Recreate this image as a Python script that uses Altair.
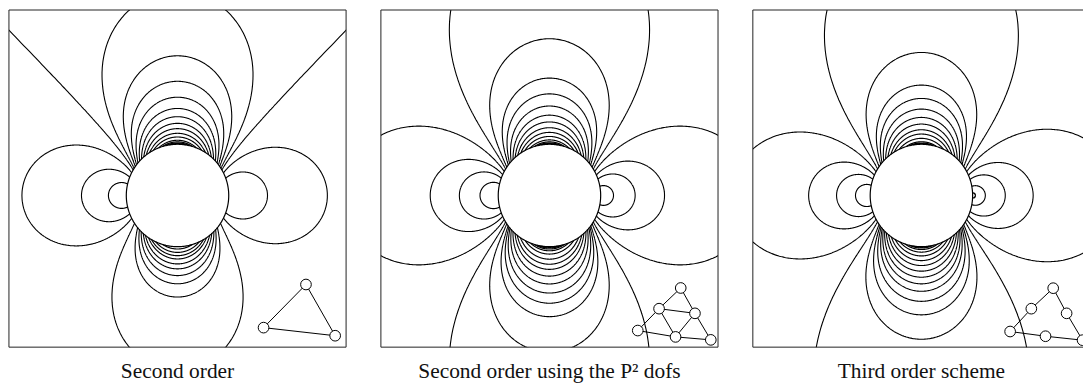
import numpy as np
import pandas as pd
import altair as alt

alt.data_transformers.disable_max_rows()

# ---- window of each panel, in cylinder radii (cylinder of radius 1 at the origin) ----
X_MIN, X_MAX = -3.2913, 3.2913
X_MAX_P3 = 3.155          # the third panel runs past the right edge of the page
Y_MIN, Y_MAX = -2.961, 3.621

# ---- contour levels of the pressure coefficient, by panel and by region ----
P1_TOP = [-0.0003, -0.13, -0.287, -0.443, -0.617, -0.813, -1.024, -1.263, -1.519,
          -1.818, -2.122, -2.462, -2.66, -2.8, -2.9]
P1_BOTTOM = [-0.18, -0.573, -0.786, -0.985, -1.211, -1.434, -1.726, -1.972, -2.276, -2.671]
P1_LEFT = [0.205, 0.488, 0.797]
P1_RIGHT = [0.220, 0.543]

P2_TOP = [-0.07, -0.225, -0.417, -0.573, -0.763, -0.979, -1.205, -1.469, -1.752,
          -2.073, -2.42, -2.66, -2.8, -2.9]
P2_BOTTOM = [-0.07, -0.225, -0.389, -0.503, -0.627, -0.783, -0.97, -1.193, -1.417,
             -1.711, -2.109, -2.45, -2.66, -2.8, -2.9]
P2_LEFT = [0.12, 0.335, 0.542, 0.792]
P2_RIGHT = [0.12, 0.357, 0.587, 0.870]

P3_TOP = [-0.075, -0.273, -0.477, -0.635, -0.827, -1.047, -1.294, -1.584, -1.875,
          -2.256, -2.644, -2.8, -2.9]
P3_BOTTOM = [-0.06, -0.27, -0.402, -0.523, -0.653, -0.785, -0.94, -1.126, -1.354,
             -1.621, -1.95, -2.3, -2.6, -2.8, -2.9]
P3_LEFT = [0.14, 0.370, 0.596, 0.843]
P3_RIGHT = [0.13, 0.376, 0.607, 0.872, 0.99]

# ---- reference-element sketches (node positions and edges) ----
P1_NODE_X = [2.508, 1.680, 3.078]
P1_NODE_Y = [-1.738, -2.580, -2.738]
P1_EDGES = [(0, 1), (1, 2), (2, 0)]

P2_NODE_X = [2.563, 2.140, 2.841, 1.724, 2.462, 3.150]
P2_NODE_Y = [-1.806, -2.210, -2.301, -2.637, -2.761, -2.819]
P2_EDGES = [(0, 1), (1, 3), (3, 4), (4, 5), (5, 2), (2, 0), (1, 2), (1, 4), (2, 4)]

P3_NODE_X = [2.573, 2.146, 2.835, 1.732, 2.423, 3.146]
P3_NODE_Y = [-1.810, -2.210, -2.301, -2.656, -2.748, -2.825]
P3_EDGES = [(0, 1), (1, 3), (3, 4), (4, 5), (5, 2), (2, 0)]

CAPTIONS = ["Second order", "Second order using the P\u00b2 dofs", "Third order scheme"]


def level_curve(c, n=240):
    """Iso-line Cp = c of potential flow round the unit cylinder,
    Cp = 2 cos(2t)/r^2 - 1/r^4, parametrised by u = 1/r^2.
    Returns the along-stream / cross-stream distances of one half."""
    u_lo = 1 - np.sqrt(1 - c) if c > 0 else np.sqrt(1 - c) - 1
    s = np.linspace(0.0, 1.0, n)
    u = u_lo + (1 - u_lo) * s ** 2
    v = np.clip((u ** 2 + c) / (2 * u), -1, 1)
    phi = 0.5 * np.arccos(v)
    r = 1 / np.sqrt(u)
    return r * np.cos(phi), r * np.sin(phi)


def region_curve(c, region):
    a, b = level_curve(c)
    if region in ("left", "right"):
        x = np.concatenate([a[::-1], a[1:]])
        y = np.concatenate([b[::-1], -b[1:]])
        if region == "left":
            x = -x
    else:
        x = np.concatenate([-a[::-1], a[1:]])
        y = np.concatenate([b[::-1], b[1:]])
        if region == "bottom":
            y = -y
    return x, y


def visible_runs(x, y, xmax, margin=0.35):
    ok = (x > X_MIN - margin) & (x < xmax + margin) & (y > Y_MIN - margin) & (y < Y_MAX + margin)
    idx = np.flatnonzero(ok)
    if idx.size == 0:
        return []
    breaks = np.flatnonzero(np.diff(idx) > 1)
    starts = np.r_[idx[0], idx[breaks + 1]]
    ends = np.r_[idx[breaks], idx[-1]]
    runs = []
    for a0, e0 in zip(starts, ends):
        a0 = max(a0 - 1, 0)
        e0 = min(e0 + 1, len(x) - 1)
        runs.append((x[a0:e0 + 1], y[a0:e0 + 1]))
    return runs


def contour_table(levels_by_region, xmax):
    frames = []
    line_id = 0
    for region, levels in levels_by_region.items():
        for c in levels:
            x, y = region_curve(c, region)
            for rx, ry in visible_runs(x, y, xmax):
                frames.append(pd.DataFrame({"id": line_id, "k": np.arange(len(rx)),
                                            "x": np.round(rx, 3), "y": np.round(ry, 3)}))
                line_id += 1
    return pd.concat(frames, ignore_index=True)


def panel(levels_by_region, node_x, node_y, edges, xmax, caption, right_edge=True, dx=0):
    xs = alt.Scale(domain=[X_MIN, xmax], nice=False, zero=False)
    ys = alt.Scale(domain=[Y_MIN, Y_MAX], nice=False, zero=False)
    X = alt.X("x:Q", scale=xs, axis=None)
    Y = alt.Y("y:Q", scale=ys, axis=None)

    contours = alt.Chart(contour_table(levels_by_region, xmax)).mark_line(
        clip=True, color="black", strokeWidth=1.1
    ).encode(x=X, y=Y, detail="id:N", order="k:Q")

    t = np.linspace(0, 2 * np.pi, 361)
    cyl = pd.DataFrame({"k": np.arange(t.size), "x": np.round(np.cos(t), 4), "y": np.round(np.sin(t), 4)})
    cylinder = alt.Chart(cyl).mark_line(color="black", strokeWidth=1.2).encode(x=X, y=Y, order="k:Q")

    fr = [(X_MIN, Y_MIN, X_MIN, Y_MAX), (X_MIN, Y_MIN, xmax, Y_MIN), (X_MIN, Y_MAX, xmax, Y_MAX)]
    if right_edge:
        fr.append((xmax, Y_MIN, xmax, Y_MAX))
    frame = alt.Chart(pd.DataFrame(fr, columns=["x", "y", "x2", "y2"])).mark_rule(
        color="#222", strokeWidth=1
    ).encode(x=X, y=Y, x2="x2:Q", y2="y2:Q")

    ed = pd.DataFrame([(node_x[i], node_y[i], node_x[j], node_y[j]) for i, j in edges],
                      columns=["x", "y", "x2", "y2"])
    edge_lines = alt.Chart(ed).mark_rule(clip=True, color="black", strokeWidth=1).encode(
        x=X, y=Y, x2="x2:Q", y2="y2:Q")

    nodes = alt.Chart(pd.DataFrame({"x": node_x, "y": node_y})).mark_point(
        clip=True, shape="circle", filled=True, fill="white", stroke="black",
        strokeWidth=1, size=115, opacity=1
    ).encode(x=X, y=Y)

    width = round((xmax - X_MIN) * 51.5)
    return alt.layer(contours, cylinder, frame, edge_lines, nodes).properties(
        width=width, height=339,
        title=alt.TitleParams(caption, orient="bottom", anchor="middle", font="Liberation Serif",
                              fontSize=21.5, fontWeight="normal", color="#111", offset=14, dx=dx),
    )


p1 = panel({"top": P1_TOP, "bottom": P1_BOTTOM, "left": P1_LEFT, "right": P1_RIGHT},
           P1_NODE_X, P1_NODE_Y, P1_EDGES, X_MAX, CAPTIONS[0])
p2 = panel({"top": P2_TOP, "bottom": P2_BOTTOM, "left": P2_LEFT, "right": P2_RIGHT},
           P2_NODE_X, P2_NODE_Y, P2_EDGES, X_MAX, CAPTIONS[1])
p3 = panel({"top": P3_TOP, "bottom": P3_BOTTOM, "left": P3_LEFT, "right": P3_RIGHT},
           P3_NODE_X, P3_NODE_Y, P3_EDGES, X_MAX_P3, CAPTIONS[2], right_edge=False, dx=3.5)

chart = alt.hconcat(p1, p2, p3, spacing=33).properties(
    padding={"left": 8, "top": 8, "right": 0, "bottom": 0},
    background="white",
).configure_view(strokeWidth=0)

chart.save("out.html", embed_options={"renderer": "svg", "actions": False})
